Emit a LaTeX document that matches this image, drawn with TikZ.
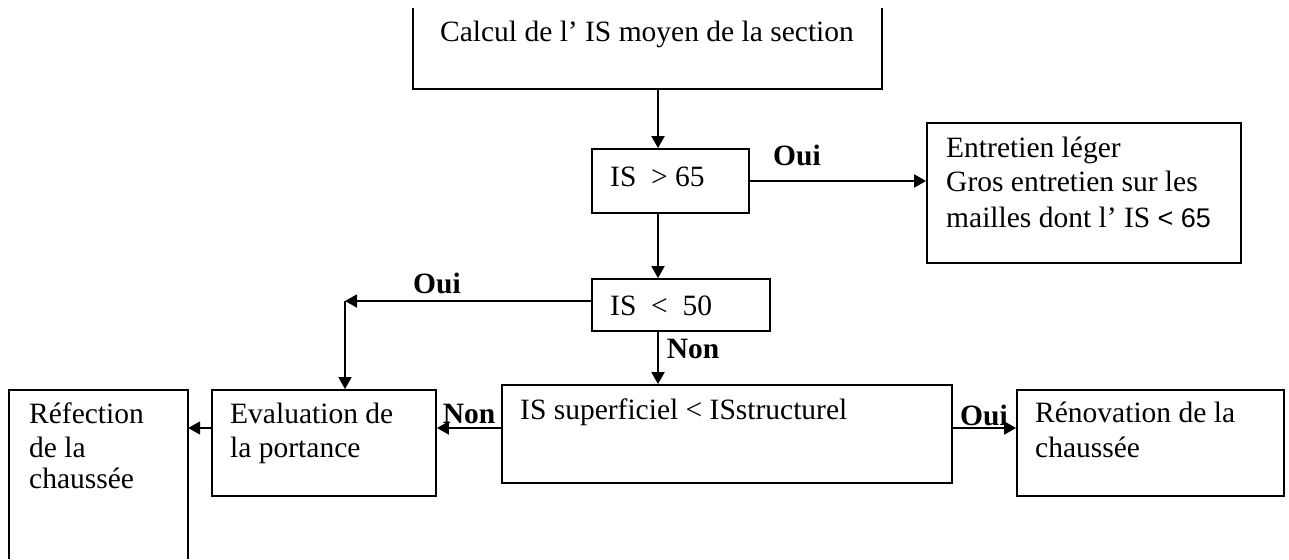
\documentclass[tikz,border=0pt]{standalone}
\usepackage{fontspec}
\setmainfont{Liberation Serif}
\newfontfamily\figsans{Liberation Sans}
\usetikzlibrary{arrows.meta,calc}
\begin{document}
\begin{tikzpicture}[x=1pt,y=-1pt,
  box/.style={draw,line width=1.8pt,inner sep=0pt,minimum width=#1},
  arr/.style={line width=1.8pt,-{Triangle[length=12pt,width=13pt]}},
  txt/.style={anchor=base west,inner sep=0pt,font=\fontsize{29.5}{36}\selectfont},
  ctxt/.style={anchor=base,inner sep=0pt,font=\fontsize{29.5}{36}\selectfont},
  lab/.style={anchor=base,inner sep=0pt,font=\fontsize{29.5}{36}\selectfont\bfseries}]
\useasboundingbox (0,0) rectangle (1289,559);
% boxes
\node[inner sep=0pt,minimum width=469pt,minimum height=81pt] (calc) at (647.5,48.5) {};
\draw[line width=1.8pt] (calc.north west) -- (calc.south west) -- (calc.south east) -- (calc.north east);
\node[box=157pt,minimum height=64pt] (is65) at (670.5,181) {};
\node[box=314pt,minimum height=140pt] (ent) at (1084,193) {};
\node[box=178pt,minimum height=52pt] (is50) at (681,305) {};
\node[box=450pt,minimum height=98pt] (issup) at (727,434) {};
\node[box=224pt,minimum height=106pt] (eval) at (324,443) {};
\node[inner sep=0pt,minimum width=179pt,minimum height=169pt] (ref) at (98.5,474.5) {};
\draw[line width=1.8pt] (ref.south west) -- (ref.north west) -- (ref.north east) -- (ref.south east);
\node[box=267pt,minimum height=106pt] (renov) at (1150.5,443) {};
% texts
\node[ctxt] (tcalc) at (647,42) {Calcul de l’ IS moyen de la section};
\node[txt] (t65) at (610,186) {IS\ \ > 65};
\node[txt] (tent1) at (946,157) {Entretien léger};
\node[txt] (tent2) at (946,191) {Gros entretien sur les};
\node[txt] (tent3) at (946,227) {mailles dont l’ IS {\figsans\fontsize{27}{30}\selectfont < 65}};
\node[txt] (t50) at (610,315) {IS\ \ <\ \ 50};
\node[txt] (tsup) at (520,419) {IS superficiel < ISstructurel};
\node[txt] (teval1) at (230,423) {Evaluation de};
\node[txt] (teval2) at (230,457) {la portance};
\node[txt] (tref1) at (29,423) {Réfection};
\node[txt] (tref2) at (29,457) {de la};
\node[txt] (tref3) at (29,488) {chaussée};
\node[txt] (tren1) at (1035,422) {Rénovation de la};
\node[txt] (tren2) at (1035,457) {chaussée};
% labels
\node[lab] (l1) at (797,165) {Oui};
\node[lab] (l2) at (437,293) {Oui};
\node[lab] (l3) at (693,358) {Non};
\node[lab] (l4) at (469,423) {Non};
\node[lab] (l5) at (984,425) {Oui};
% connectors
\coordinate (c1) at (658,0);
\coordinate (c3) at (0,428);
\coordinate (corner) at (345,301);
\draw[arr] (c1 |- calc.south) -- (c1 |- is65.north);
\draw[arr] (is65.east) -- (ent.west |- is65.east);
\draw[arr] (c1 |- is65.south) -- (c1 |- is50.north);
\draw[arr] (corner -| is50.west) -- (corner);
\draw[arr] (corner) -- (corner |- eval.north);
\draw[arr] (c1 |- is50.south) -- (c1 |- issup.north);
\draw[arr] (c3 -| issup.west) -- (c3 -| eval.east);
\draw[arr] (c3 -| eval.west) -- (c3 -| ref.east);
\draw[arr] (c3 -| issup.east) -- (c3 -| renov.west);
\end{tikzpicture}
\end{document}
